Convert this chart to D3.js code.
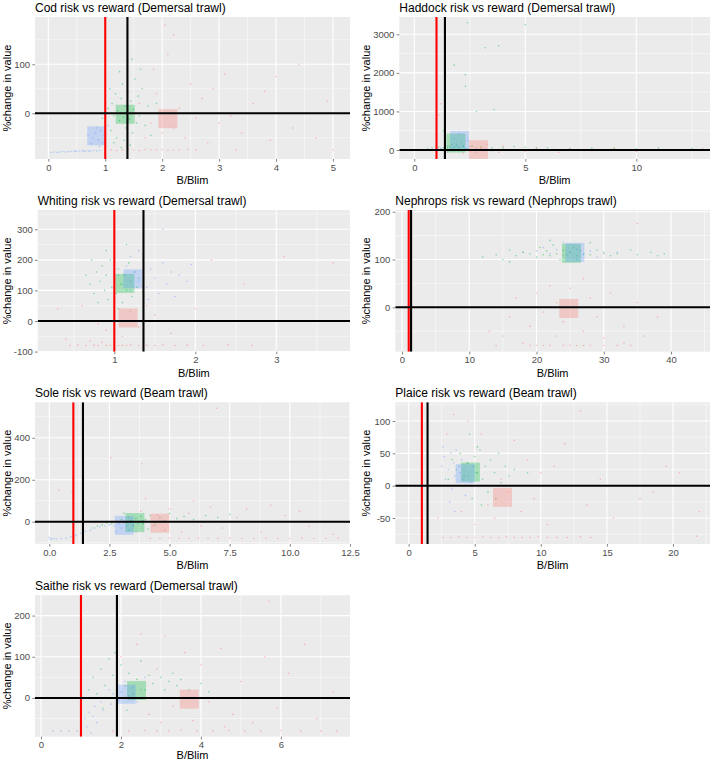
<!DOCTYPE html>
<html><head><meta charset="utf-8">
<script src="https://cdn.jsdelivr.net/npm/d3@7"></script>
<style>body{margin:0;background:#fff}svg{display:block}text{font-family:"Liberation Sans",Arial,Helvetica,sans-serif}</style>
</head><body><svg id="c" width="711" height="762"></svg>
<script>
// ---------------- DATA ----------------
const groupNames = ["red","green","blue"];
const groupColors = ["#F8766D","#00BA38","#619CFF"];

// Cod
const codMeanX = [2.10, 1.35, 0.85];
const codMeanY = [-11, -2, -46];
const codBpa = 1.39;
const codXTicks = [0,1,2,3,4,5];
const codXLabels = ["0","1","2","3","4","5"];
const codYTicks = [0,100];
const codBlue = [[0.05,-80],[0.1,-79],[0.15,-80],[0.2,-79],[0.25,-78],[0.3,-79],[0.35,-78],[0.4,-78],[0.45,-77],[0.5,-78],[0.55,-77],[0.6,-77],[0.65,-78],[0.7,-76],[0.75,-77],[0.8,-76],[0.85,-77],[0.9,-76],[0.48,-77],[0.62,-76],[0.72,-78],[0.78,-50],[0.82,-40],[0.88,-55],[0.92,-35],[0.95,-60],[0.75,-62],[0.85,-30],[0.98,-45],[1.05,-25],[0.7,-45],[0.9,-68]];
const codGreen = [[1.0,-20],[1.05,10],[1.1,-35],[1.12,20],[1.15,-5],[1.18,40],[1.2,-50],[1.22,5],[1.25,-15],[1.28,30],[1.3,60],[1.32,-8],[1.35,15],[1.36,-30],[1.38,2],[1.4,45],[1.42,-12],[1.45,25],[1.48,-40],[1.5,8],[1.52,70],[1.55,-20],[1.58,35],[1.6,-5],[1.65,50],[1.7,-25],[1.75,15],[1.8,-45],[1.25,85],[1.15,-60],[1.33,-55],[1.44,-65],[1.08,50],[1.62,90],[1.9,20],[0.95,-10],[1.28,-70],[1.47,110]];
const codRed = [[1.1,-75],[1.2,-76],[1.3,-75],[1.4,-74],[1.5,-75],[1.6,-76],[1.7,-74],[1.8,-75],[1.9,-75],[2.0,-74],[2.1,-76],[2.2,-75],[2.3,-75],[2.45,-74],[1.6,20],[1.8,-20],[1.9,40],[2.0,-40],[2.05,180],[2.2,160],[2.1,120],[2.3,10],[2.4,-50],[2.5,60],[2.6,-10],[2.7,30],[2.8,-60],[3.0,-20],[3.1,80],[3.3,-75],[3.4,-40],[3.6,20],[3.8,45],[3.9,-55],[4.0,75],[4.3,-30],[4.4,100],[4.7,-50],[4.9,25],[5.0,-75],[1.7,-50],[2.2,-30],[1.85,90],[2.6,-75],[3.2,-5],[2.9,50]];

// Haddock
const haddockMeanX = [2.89, 1.88, 2.04];
const haddockMeanY = [8, 181, 246];
const haddockBpa = 1.38;
const haddockXTicks = [0,5,10];
const haddockXLabels = ["0","5","10"];
const haddockYTicks = [0,1000,2000,3000];
const haddockBlue = [[1.5,100],[1.7,60],[1.9,150],[2.0,80],[2.1,200],[2.2,120],[2.3,40],[2.5,90],[1.8,300],[2.0,420],[2.4,250],[1.6,20],[2.8,60],[3.2,30],[1.2,50]];
const haddockGreen = [[0.6,30],[0.8,60],[1.0,40],[1.1,80],[1.2,20],[1.3,60],[1.4,120],[1.5,50],[1.6,90],[1.7,150],[1.8,70],[1.9,110],[2.0,60],[2.2,90],[2.4,40],[2.6,100],[3.0,80],[3.5,60],[4.0,50],[4.5,90],[5.0,70],[5.5,40],[6.0,60],[7.0,30],[8.0,50],[9.0,40],[10.0,30],[11.0,60],[12.5,40],[1.3,500],[2.8,1000],[2.3,1950],[3.2,2650],[2.4,3300],[5.0,3250],[1.8,2200],[3.8,2700],[2.3,1650],[3.6,1050]];
const haddockRed = [[1.5,-50],[2.0,20],[2.5,-30],[3.0,40],[3.5,-20],[4.0,100],[4.5,10],[5.0,-40],[5.5,60],[6.0,0],[6.5,-60],[7.0,30],[8.0,-20],[9.0,50],[10,-40],[11,20],[12,-10],[13,30],[2.2,-80],[2.8,-70],[3.3,150],[3.8,-60],[1.2,1200],[1.1,900]];

// Whiting
const whitingMeanX = [1.17, 1.13, 1.23];
const whitingMeanY = [10, 123, 138];
const whitingBpa = 1.36;
const whitingXTicks = [1,2,3];
const whitingXLabels = ["1","2","3"];
const whitingYTicks = [-100,0,100,200,300];
const whitingGreen = [[0.7,120],[0.75,90],[0.78,160],[0.8,60],[0.82,130],[0.85,180],[0.88,100],[0.9,150],[0.92,70],[0.95,200],[0.97,110],[1.0,140],[1.02,90],[1.05,170],[1.08,120],[1.1,60],[1.12,150],[1.15,100],[1.18,190],[1.2,130],[1.22,80],[1.25,160],[1.28,110],[1.3,140],[1.35,95],[0.65,150],[0.9,230],[1.05,40],[0.72,200],[1.15,250]];
const whitingBlue = [[1.05,150],[1.1,120],[1.15,180],[1.2,100],[1.25,160],[1.3,130],[1.35,200],[1.4,110],[1.45,170],[1.5,140],[1.55,90],[1.6,190],[1.65,120],[1.7,160],[1.75,80],[1.8,150],[1.9,130],[1.3,230],[1.42,70],[1.2,210],[1.6,300],[1.95,185]];
const whitingRed = [[0.4,-60],[0.45,-80],[0.55,-78],[0.65,-80],[0.7,-65],[0.75,-79],[0.8,-80],[0.85,-70],[0.9,-79],[0.95,-80],[1.0,-78],[1.05,-80],[1.1,-79],[1.15,-80],[1.2,-78],[1.3,-80],[1.4,-79],[1.5,-80],[1.6,-78],[1.75,-80],[1.9,-79],[2.1,-80],[2.4,-78],[2.7,-80],[0.9,-30],[1.0,10],[1.1,-50],[1.2,30],[1.3,-20],[1.5,20],[0.8,-10],[1.7,-40],[2.0,40],[2.2,200],[2.6,120],[3.7,190],[3.1,210],[0.6,50],[1.4,50],[0.3,40]];

// Nephrops
const nephropsMeanX = [24.8, 25.2, 25.7];
const nephropsMeanY = [-2.5, 113, 115];
const nephropsBpa = 1.35;
const nephropsXTicks = [0,10,20,30,40];
const nephropsXLabels = ["0","10","20","30","40"];
const nephropsYTicks = [0,100,200];
const nephropsGreen = [[12,105],[14,110],[15,100],[16,120],[17,108],[18,115],[19,112],[20,105],[20.5,125],[21,110],[21.5,118],[22,108],[22.5,130],[23,112],[23.5,100],[24,120],[24.5,110],[25,115],[25.5,125],[26,108],[26.5,118],[27,112],[28,110],[29,120],[30,115],[31,108],[32,112],[34,120],[35,110],[37,115],[38,108],[39,112],[16,95],[22,140],[28,135]];
const nephropsBlue = [[18,115],[20,118],[22,112],[23,120],[24,108],[25,115],[26,122],[27,110],[28,118],[30,112],[32,115],[24,135],[26,100],[21,125],[29,105]];
const nephropsRed = [[13,-50],[15,-60],[16,-20],[17,20],[18,-75],[19,-40],[20,30],[20,-80],[21,-10],[22,-80],[22,45],[23,-60],[23,10],[24,-80],[24,-30],[25,40],[25,-80],[26,-80],[26,0],[27,-50],[27,60],[28,-80],[28,20],[29,-20],[30,-80],[30,-65],[31,30],[32,-80],[33,-40],[34,-80],[35,10],[36,-60],[38,-20],[19,-80],[21,-80],[27,-80],[35,175],[33,-75],[14,-80]];

// Sole
const soleMeanX = [4.6, 3.56, 3.12];
const soleMeanY = [-7, -4, -17];
const soleBpa = 1.40;
const soleXTicks = [0,2.5,5,7.5,10,12.5];
const soleXLabels = ["0.0","2.5","5.0","7.5","10.0","12.5"];
const soleYTicks = [0,200,400];
const soleBlue = [[0.0,-75],[0.05,-85],[0.1,-80],[0.2,-80],[0.3,-82],[0.5,-80],[0.7,-78],[0.9,-72],[1.1,-65],[1.3,-55],[1.5,-45],[1.7,-40],[1.9,-30],[2.1,-25],[2.3,-20],[2.5,-15],[2.7,-20],[2.9,-10],[3.0,-30],[3.1,-5],[3.2,-20],[3.3,-40],[3.4,0],[3.5,-15],[3.7,-10],[3.9,5],[2.8,-45],[3.6,-50]];
const soleGreen = [[1.8,-30],[2.0,-20],[2.2,-15],[2.4,-5],[2.6,-10],[2.8,0],[3.0,10],[3.2,-5],[3.3,20],[3.4,5],[3.5,-20],[3.6,15],[3.7,0],[3.8,25],[3.9,-10],[4.0,10],[4.2,30],[4.4,-15],[4.6,20],[4.8,5],[5.0,40],[5.3,15],[5.6,25],[6.0,10],[6.5,30],[7.0,20],[7.5,35],[3.1,40],[4.1,-35]];
const soleRed = [[4.2,-80],[4.6,-80],[5.0,-78],[5.4,-80],[5.8,-80],[6.2,-79],[6.6,-80],[7.0,-80],[7.5,-78],[8.0,-80],[8.5,-80],[9.0,-79],[9.5,-80],[10.0,-80],[10.5,-78],[11.0,-80],[11.5,-80],[12.0,-79],[4.3,-20],[4.5,30],[4.8,-40],[5.0,60],[5.2,0],[5.5,-50],[5.8,40],[6.0,100],[6.3,-20],[6.7,70],[6.96,541],[7.2,-30],[7.8,20],[8.2,60],[8.8,-50],[9.2,80],[9.8,30],[10.4,50],[10.8,-20],[11.8,-60],[4.0,110],[3.84,276],[2.55,305],[0.95,140],[0.4,150],[3.8,50]];

// Plaice
const plaiceMeanX = [7.1, 4.67, 4.28];
const plaiceMeanY = [-18, 21, 18.5];
const plaiceBpa = 1.43;
const plaiceXTicks = [0,5,10,15,20];
const plaiceXLabels = ["0","5","10","15","20"];
const plaiceYTicks = [-50,0,50,100];
const plaiceBlue = [[2.5,30],[2.7,45],[2.8,10],[3.0,25],[3.2,50],[3.3,-5],[3.4,35],[3.5,15],[3.6,55],[3.7,0],[3.8,30],[3.9,20],[4.0,40],[4.1,10],[4.2,25],[4.3,-15],[4.4,35],[4.5,15],[4.7,5],[4.9,30],[5.1,20],[3.1,-25],[2.6,60],[3.5,-40]];
const plaiceGreen = [[3.0,10],[3.3,40],[3.6,25],[3.9,50],[4.2,15],[4.5,35],[4.7,0],[5.0,45],[5.2,20],[5.4,55],[5.6,10],[5.8,30],[6.0,-10],[6.2,40],[6.5,20],[6.8,50],[7.0,5],[7.3,30],[7.6,15],[8.0,25],[4.8,-20],[5.5,-30],[6.6,-20],[9.0,20],[4.6,80],[5.2,60]];
const plaiceRed = [[2.6,-80],[3.2,-80],[3.8,-79],[4.4,-80],[5.0,-80],[5.6,-79],[6.2,-80],[6.8,-80],[7.4,-79],[8.0,-80],[8.6,-80],[9.2,-80],[9.8,-79],[10.5,-80],[11.2,-80],[12.0,-80],[13.0,-79],[13.8,-80],[21.8,-78],[4.0,-40],[4.5,100],[5.0,-60],[5.5,80],[6.0,-30],[6.5,-50],[7.0,10],[7.5,-10],[8.0,70],[8.5,-40],[9.0,40],[9.5,-20],[10.0,20],[10.5,-60],[11.0,30],[11.8,65],[12.3,0],[13.0,115],[13.5,-30],[14.5,10],[15.5,-50],[16.5,0],[17.5,-20],[18.5,-10],[19.5,30],[20.5,20],[22,-40],[2.9,80],[3.4,110],[2.2,-50]];

// Saithe
const saitheMeanX = [3.71, 2.39, 2.13];
const saitheMeanY = [-3, 18, 9];
const saitheBpa = 1.9;
const saitheXTicks = [0,2,4,6];
const saitheXLabels = ["0","2","4","6"];
const saitheYTicks = [0,100,200];
const saitheBlue = [[0.9,-80],[1.0,-65],[1.1,-50],[1.15,-70],[1.2,-35],[1.3,-45],[1.35,-20],[1.4,-60],[1.5,-10],[1.55,-30],[1.6,0],[1.7,20],[1.75,-15],[1.8,10],[1.9,30],[1.95,-5],[2.0,15],[2.1,40],[2.2,5],[2.3,25],[2.4,-10],[2.5,20],[2.6,50],[1.25,-85],[0.3,-80],[0.5,-80],[0.7,-80]];
const saitheGreen = [[1.2,20],[1.3,50],[1.4,10],[1.5,70],[1.6,30],[1.7,95],[1.8,55],[1.9,-10],[2.0,80],[2.1,30],[2.2,60],[2.3,10],[2.4,45],[2.5,90],[2.6,20],[2.7,55],[2.8,35],[2.9,0],[3.0,50],[3.1,20],[3.2,40],[3.3,60],[3.4,30],[3.5,45],[3.7,20],[4.0,35],[4.2,15],[1.55,-25],[2.15,-30],[1.85,110]];
const saitheRed = [[1.8,-80],[2.2,-80],[2.6,-79],[2.9,-80],[3.2,-80],[3.5,-78],[3.9,-80],[4.3,-80],[4.7,-79],[5.1,-80],[5.5,-80],[6.0,-79],[6.5,-80],[7.0,-80],[7.4,-80],[2.0,100],[2.4,130],[2.7,-40],[2.9,70],[3.1,150],[3.3,-20],[3.6,110],[3.8,-55],[4.0,80],[4.2,-10],[4.5,120],[4.8,-40],[5.0,40],[5.3,-60],[5.6,100],[5.9,-25],[6.2,60],[6.6,130],[6.9,-50],[7.3,15],[3.0,-60],[4.6,-70],[2.5,155],[5.7,235]];

const blimLine = 1;
const hLine = 0;

// ---------------- LAYOUT ----------------
const panels = [
 {title:"Cod risk vs reward (Demersal trawl)", box:[35,17,350,159], xd:[-0.234,5.30], yd:[-93.3,196.5], xt:codXTicks, xl:codXLabels, yt:codYTicks, bpa:codBpa, pts:[codRed,codGreen,codBlue], mx:codMeanX, my:codMeanY, yl:11},
 {title:"Haddock risk vs reward (Demersal trawl)", box:[399.3,17,710,159], xd:[-0.676,13.32], yd:[-233,3448], xt:haddockXTicks, xl:haddockXLabels, yt:haddockYTicks, bpa:haddockBpa, pts:[haddockRed,haddockGreen,haddockBlue], mx:haddockMeanX, my:haddockMeanY, yl:369.5},
 {title:"Whiting risk vs reward (Demersal trawl)", box:[37.7,210,350,351.7], xd:[0.054,3.91], yd:[-100.4,363], xt:whitingXTicks, xl:whitingXLabels, yt:whitingYTicks, bpa:whitingBpa, pts:[whitingRed,whitingGreen,whitingBlue], mx:whitingMeanX, my:whitingMeanY, yl:11},
 {title:"Nephrops risk vs reward (Nephrops trawl)", box:[395.3,210,710,351.7], xd:[-0.996,45.8], yd:[-92.9,203.6], xt:nephropsXTicks, xl:nephropsXLabels, yt:nephropsYTicks, bpa:nephropsBpa, pts:[nephropsRed,nephropsGreen,nephropsBlue], mx:nephropsMeanX, my:nephropsMeanY, yl:369.5},
 {title:"Sole risk vs reward (Beam trawl)", box:[35,402.3,350,544], xd:[-0.594,12.5], yd:[-106,569], xt:soleXTicks, xl:soleXLabels, yt:soleYTicks, bpa:soleBpa, pts:[soleRed,soleGreen,soleBlue], mx:soleMeanX, my:soleMeanY, yl:11},
 {title:"Plaice risk vs reward (Beam trawl)", box:[395.3,402.3,710,544], xd:[-1.01,22.8], yd:[-90.1,128.9], xt:plaiceXTicks, xl:plaiceXLabels, yt:plaiceYTicks, bpa:plaiceBpa, pts:[plaiceRed,plaiceGreen,plaiceBlue], mx:plaiceMeanX, my:plaiceMeanY, yl:369.5},
 {title:"Saithe risk vs reward (Demersal trawl)", box:[35,595,350,736.7], xd:[-0.15,7.73], yd:[-94.1,250], xt:saitheXTicks, xl:saitheXLabels, yt:saitheYTicks, bpa:saitheBpa, pts:[saitheRed,saitheGreen,saitheBlue], mx:saitheMeanX, my:saitheMeanY, yl:11}
];

function minorBreaks(ticks, dom){
  const step = ticks.length>1 ? ticks[1]-ticks[0] : 100;
  const ext = [ticks[0]-step, ...ticks, ticks[ticks.length-1]+step];
  const out = [];
  for(let i=0;i<ext.length-1;i++){ const m=(ext[i]+ext[i+1])/2; if(m>=dom[0] && m<=dom[1]) out.push(m); }
  return out;
}

const svg = d3.select("#c");
const defs = svg.append("defs");

panels.forEach((p,i)=>{
  const [l,t,r,b] = p.box;
  const x = d3.scaleLinear().domain(p.xd).range([l,r]);
  const y = d3.scaleLinear().domain(p.yd).range([b,t]);
  const g = svg.append("g");
  g.append("rect").attr("x",l).attr("y",t).attr("width",r-l).attr("height",b-t).attr("fill","#EBEBEB");
  // minor grid
  g.selectAll(null).data(minorBreaks(p.xt,p.xd)).enter().append("line")
    .attr("x1",d=>x(d)).attr("x2",d=>x(d)).attr("y1",t).attr("y2",b).attr("stroke","#fff").attr("stroke-width",0.5);
  g.selectAll(null).data(minorBreaks(p.yt,p.yd)).enter().append("line")
    .attr("y1",d=>y(d)).attr("y2",d=>y(d)).attr("x1",l).attr("x2",r).attr("stroke","#fff").attr("stroke-width",0.5);
  // major grid
  g.selectAll(null).data(p.xt).enter().append("line")
    .attr("x1",d=>x(d)).attr("x2",d=>x(d)).attr("y1",t).attr("y2",b).attr("stroke","#fff").attr("stroke-width",1.1);
  g.selectAll(null).data(p.yt).enter().append("line")
    .attr("y1",d=>y(d)).attr("y2",d=>y(d)).attr("x1",l).attr("x2",r).attr("stroke","#fff").attr("stroke-width",1.1);

  defs.append("clipPath").attr("id","clip"+i).append("rect")
    .attr("x",l).attr("y",t).attr("width",r-l).attr("height",b-t);
  const pg = g.append("g").attr("clip-path",`url(#clip${i})`);
  // points
  p.pts.forEach((arr,k)=>{
    pg.selectAll(null).data(arr).enter().append("circle")
      .attr("cx",d=>x(d[0])).attr("cy",d=>y(d[1])).attr("r",0.8)
      .attr("fill",groupColors[k]).attr("fill-opacity",0.45);
  });
  // mean squares
  const s = 19;
  p.mx.forEach((mx,k)=>{
    pg.append("rect").attr("x",x(mx)-s/2).attr("y",y(p.my[k])-s/2).attr("width",s).attr("height",s)
      .attr("fill",groupColors[k]).attr("fill-opacity",0.3);
  });
  // reference lines
  pg.append("line").attr("x1",x(blimLine)).attr("x2",x(blimLine)).attr("y1",t).attr("y2",b).attr("stroke","#FF0000").attr("stroke-width",2.1);
  pg.append("line").attr("x1",x(p.bpa)).attr("x2",x(p.bpa)).attr("y1",t).attr("y2",b).attr("stroke","#000").attr("stroke-width",2.1);
  pg.append("line").attr("y1",y(hLine)).attr("y2",y(hLine)).attr("x1",l).attr("x2",r).attr("stroke","#000").attr("stroke-width",2.1);

  // axes
  const xa = g.append("g").attr("transform",`translate(0,${b})`)
    .call(d3.axisBottom(x).tickValues(p.xt).tickFormat((d,j)=>p.xl[j]).tickSize(2.7).tickPadding(2.2));
  const ya = g.append("g").attr("transform",`translate(${l},0)`)
    .call(d3.axisLeft(y).tickValues(p.yt).tickFormat(d=>String(d)).tickSize(2.7).tickPadding(2.2));
  [xa,ya].forEach(a=>{
    a.select(".domain").remove();
    a.selectAll(".tick line").attr("stroke","#333").attr("stroke-width",0.6);
    a.selectAll(".tick text").attr("fill","#4D4D4D").attr("font-size","9.5px").attr("font-family",null);
  });
  // titles
  g.append("text").attr("x",l).attr("y",t-5.5).attr("font-size","12px").attr("fill","#000").text(p.title);
  g.append("text").attr("x",(l+r)/2).attr("y",Math.min(b+25,759)).attr("text-anchor","middle").attr("font-size","11px").attr("fill","#000").text("B/Blim");
  g.append("text").attr("transform",`translate(${p.yl},${(t+b)/2}) rotate(-90)`).attr("text-anchor","middle").attr("font-size","11px").attr("fill","#000").text("%change in value");
});
</script></body></html>
